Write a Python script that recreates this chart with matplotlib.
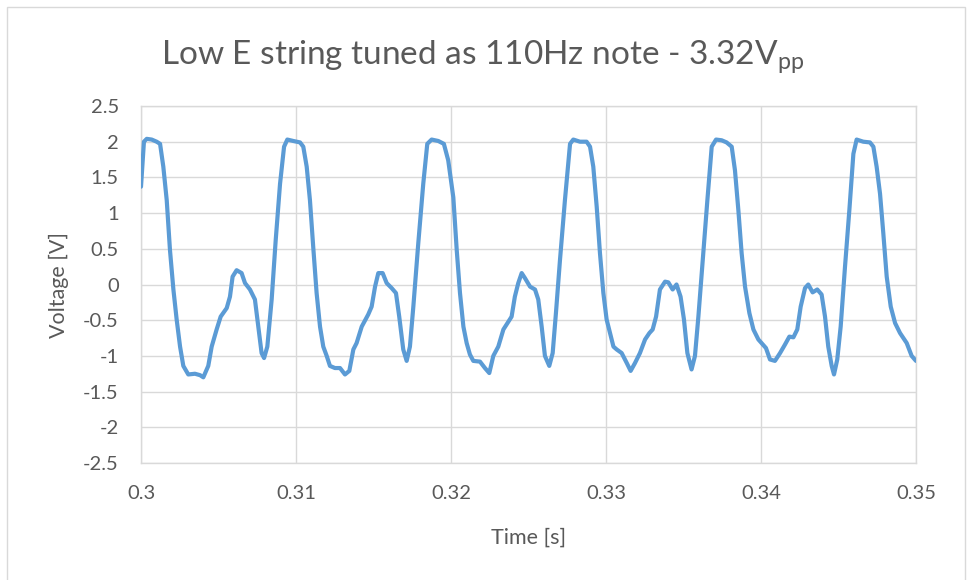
import matplotlib.pyplot as plt
from matplotlib.patches import Rectangle

# Time in ms after 0.3 s
time_ms = [
    0.0, 0.19, 0.37, 0.69, 1.01, 1.23, 1.44, 1.66, 1.87, 2.09, 2.30, 2.52, 2.73,
    3.05, 3.48, 3.81, 4.02, 4.34, 4.56, 4.88, 5.14, 5.53, 5.74, 5.91, 6.17, 6.49,
    6.71, 7.03, 7.35, 7.57, 7.78, 7.94, 8.15, 8.43, 8.69, 8.97, 9.23, 9.44, 9.83,
    10.26, 10.47, 10.69, 10.90, 11.11, 11.33, 11.55, 11.76, 11.98, 12.19, 12.51,
    12.84, 13.16, 13.44, 13.70, 13.91, 14.24, 14.66, 14.88, 15.10, 15.31, 15.59,
    15.85, 16.17, 16.45, 16.66, 16.92, 17.14, 17.35, 17.57, 17.89, 18.21, 18.47,
    18.75, 19.18, 19.54, 19.82, 20.15, 20.37, 20.58, 20.80, 21.01, 21.22, 21.44,
    21.87, 22.19, 22.47, 22.73, 23.05, 23.38, 23.70, 23.91, 24.12, 24.34, 24.56,
    24.77, 25.10, 25.42, 25.63, 25.85, 26.06, 26.34, 26.56, 26.77, 27.03, 27.35,
    27.68, 27.89, 28.32, 28.75, 28.97, 29.18, 29.40, 29.61, 29.83, 30.04, 30.26,
    30.48, 30.69, 31.01, 31.34, 31.59, 31.87, 32.19, 32.52, 32.80, 33.01, 33.23,
    33.48, 33.81, 34.02, 34.30, 34.55, 34.81, 35.03, 35.25, 35.52, 35.74, 35.96,
    36.24, 36.54, 36.82, 37.10, 37.46, 37.78, 38.11, 38.32, 38.54, 38.75, 38.97,
    39.25, 39.51, 39.83, 40.32, 40.58, 40.90, 41.23, 41.55, 41.83, 42.09, 42.34,
    42.56, 42.84, 43.05, 43.33, 43.63, 43.91, 44.13, 44.34, 44.56, 44.71, 44.92,
    45.14, 45.42, 45.70, 45.96, 46.17, 46.60, 47.03, 47.25, 47.46, 47.68, 47.89,
    48.11, 48.37, 48.65, 48.97, 49.40, 49.72, 50.0,
]
voltage = [
    1.37, 2.00, 2.04, 2.03, 2.00, 1.97, 1.65, 1.18, 0.48, -0.07, -0.49, -0.87, -1.14,
    -1.26, -1.25, -1.27, -1.30, -1.14, -0.87, -0.63, -0.45, -0.33, -0.17, 0.11, 0.20, 0.16,
    0.02, -0.07, -0.21, -0.59, -0.96, -1.03, -0.87, -0.21, 0.62, 1.41, 1.93, 2.03, 2.01,
    1.99, 1.93, 1.65, 1.18, 0.53, -0.12, -0.59, -0.87, -1.00, -1.14, -1.17,
    -1.17, -1.26, -1.21, -0.91, -0.82, -0.59, -0.42, -0.31, -0.03, 0.16, 0.16,
    0.02, -0.05, -0.12, -0.45, -0.91, -1.07, -0.87, -0.31, 0.58, 1.41, 1.97,
    2.03, 2.01, 1.97, 1.74, 1.22, 0.48, -0.12, -0.59, -0.82, -0.98, -1.07,
    -1.08, -1.17, -1.24, -1.00, -0.87, -0.63, -0.52, -0.45, -0.17, 0.02, 0.16,
    0.09, -0.03, -0.07, -0.21, -0.59, -1.00, -1.14, -0.96, -0.40, 0.34, 1.18,
    1.97, 2.03, 2.00, 2.00, 1.93, 1.65, 1.09, 0.44, -0.12, -0.49, -0.68,
    -0.87, -0.91, -0.96, -1.10, -1.21, -1.10, -0.96, -0.77, -0.68, -0.63, -0.45,
    -0.07, 0.04, 0.03, -0.07, 0.00, -0.17, -0.49, -0.96, -1.19, -1.00, -0.45,
    0.34, 1.18, 1.93, 2.03, 2.02, 1.99, 1.93, 1.60, 1.04, 0.44, -0.03,
    -0.40, -0.63, -0.77, -0.89, -1.05, -1.07, -0.96, -0.84, -0.73, -0.74, -0.63,
    -0.31, -0.05, 0.00, -0.11, -0.07, -0.14, -0.45, -0.87, -1.14, -1.26, -1.05,
    -0.59, 0.25, 1.04, 1.83, 2.03, 2.00, 1.99, 1.93, 1.65, 1.27, 0.72,
    0.11, -0.31, -0.54, -0.68, -0.82, -1.00, -1.07,
]

x_ticks = [0.30, 0.31, 0.32, 0.33, 0.34, 0.35]
x_tick_labels = ["0.3", "0.31", "0.32", "0.33", "0.34", "0.35"]
y_ticks = [2.5, 2, 1.5, 1, 0.5, 0, -0.5, -1, -1.5, -2, -2.5]
y_tick_labels = ["2.5", "2", "1.5", "1", "0.5", "0", "-0.5", "-1", "-1.5", "-2", "-2.5"]

time_s = [0.3 + t / 1000.0 for t in time_ms]

text_color = "#595959"
grid_color = "#D9D9D9"
line_color = "#5B9BD5"

plt.rcParams["font.family"] = ["Lato", "DejaVu Sans"]
plt.rcParams["mathtext.fontset"] = "custom"
plt.rcParams["mathtext.rm"] = "Lato"

fig = plt.figure(figsize=(9.67, 5.8), dpi=100)
ax = fig.add_axes([141 / 967, 1 - 463 / 580, 775 / 967, 357 / 580])

# outer chart border, like the Excel chart frame
fig.patches.append(
    Rectangle((7 / 967, -0.05), 958 / 967, 1.05 - 7 / 580,
              transform=fig.transFigure, fill=False,
              edgecolor=grid_color, linewidth=1.0)
)

ax.plot(time_s, voltage, color=line_color, linewidth=3.0,
        solid_joinstyle="round", solid_capstyle="round", zorder=3)

ax.set_xlim(0.3, 0.35)
ax.set_ylim(-2.5, 2.5)
ax.set_xticks(x_ticks)
ax.set_xticklabels(x_tick_labels)
ax.set_yticks(y_ticks)
ax.set_yticklabels(y_tick_labels)
ax.grid(True, color=grid_color, linewidth=1.0)
ax.set_axisbelow(True)
for spine in ax.spines.values():
    spine.set_color(grid_color)
    spine.set_linewidth(1.0)
ax.tick_params(length=0, pad=16, labelsize=14.5, colors=text_color)

ax.set_xlabel("Time [s]", fontsize=15.5, color=text_color, labelpad=18)
ax.set_ylabel("Voltage [V]", fontsize=15.5, color=text_color, labelpad=10)

fig.text(0.4995, 1 - 57 / 580,
         r"Low E string tuned as 110Hz note - 3.32V$_\mathregular{pp}$",
         ha="center", va="center", fontsize=24, color=text_color)

fig.savefig("out.png", dpi=100)
